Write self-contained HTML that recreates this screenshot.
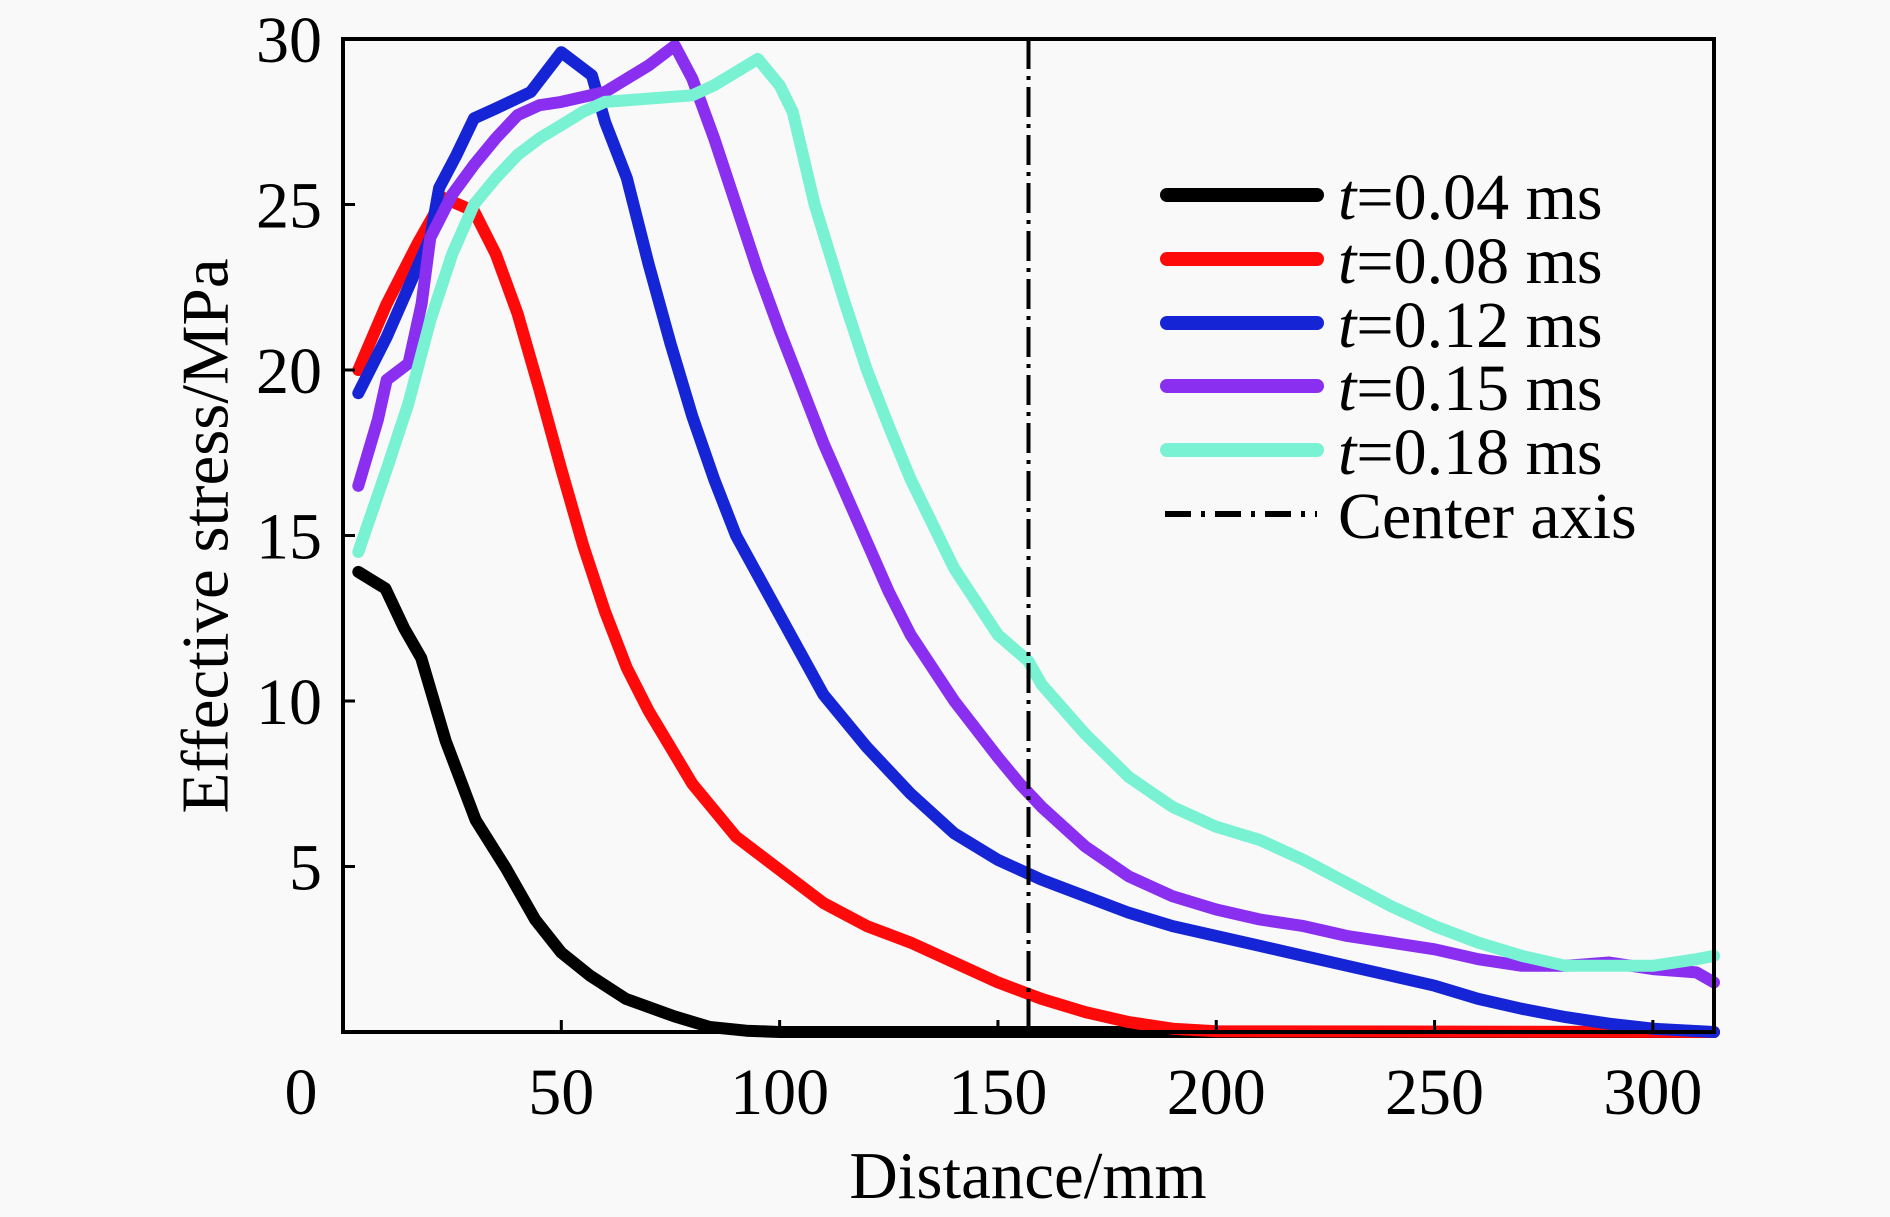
<!DOCTYPE html>
<html><head><meta charset="utf-8"><style>
html,body{margin:0;padding:0;background:#f9f9f9}
svg{display:block}
text{font-family:"Liberation Serif",serif;fill:#000}
</style></head><body>
<svg id="chart" width="1890" height="1217" viewBox="0 0 1890 1217" xmlns="http://www.w3.org/2000/svg">
<rect width="1890" height="1217" fill="#f9f9f9"/>
<g id="marks"></g>
<rect x="343" y="39" width="1371" height="993" fill="none" stroke="#000" stroke-width="4"/>
<g id="ticks"></g>
<text x="212" y="536" font-size="67" text-anchor="middle" transform="rotate(-90 212 536)" dominant-baseline="middle">Effective stress/MPa</text>
<text x="1028" y="1198" font-size="67" text-anchor="middle">Distance/mm</text>
<g id="legend"></g>
</svg>
<script>
const xTicks=[0,50,100,150,200,250,300];
const yTicks=[5,10,15,20,25,30];
const seriesNames=["t=0.04 ms","t=0.08 ms","t=0.12 ms","t=0.15 ms","t=0.18 ms"];
const seriesColors=["#000000","#ff0a0a","#1525d6","#8a2ef0","#78f2d2"];
const centerAxisX=157;
const s004=[[3.5,13.9],[9.7,13.4],[14,12.2],[17.9,11.3],[23.5,8.8],[30.4,6.4],[37.3,4.95],[44,3.4],[50,2.4],[56.6,1.7],[64.8,1.0],[75.9,0.47],[84,0.15],[92.4,0.04],[100,0],[314,0]];
const s008=[[3.5,20],[10,22],[17,23.8],[23,25.2],[30,24.8],[35,23.5],[40,21.7],[45,19.4],[50,17],[55,14.7],[60,12.7],[65,11],[70,9.7],[75,8.6],[80,7.5],[90,5.9],[100,4.9],[110,3.9],[120,3.2],[130,2.7],[140,2.1],[150,1.5],[160,1.0],[170,0.6],[180,0.3],[190,0.1],[200,0.02],[314,0]];
const s012=[[3.5,19.3],[10,21],[15,22.5],[20,24],[22,25.5],[26,26.5],[30,27.6],[35,27.9],[43,28.4],[50,29.6],[57,28.9],[60,27.5],[65,25.8],[70,23.2],[75,20.8],[80,18.6],[85,16.7],[90,15],[95,13.8],[100,12.6],[105,11.4],[110,10.2],[120,8.6],[130,7.2],[140,6.0],[150,5.2],[160,4.6],[170,4.1],[180,3.6],[190,3.2],[200,2.9],[210,2.6],[220,2.3],[230,2.0],[240,1.7],[250,1.4],[260,1.0],[270,0.7],[280,0.45],[290,0.25],[300,0.1],[314,0]];
const s015=[[3.5,16.5],[8,18.5],[10,19.7],[15,20.2],[18,22],[20,24],[25,25.3],[30,26.2],[35,27],[40,27.7],[45,28],[50,28.1],[60,28.4],[70,29.2],[76,29.8],[80,28.8],[85,27],[90,25],[95,23],[100,21.2],[105,19.5],[110,17.8],[115,16.3],[120,14.8],[125,13.3],[130,12],[140,10],[150,8.3],[155,7.5],[160,6.8],[170,5.6],[180,4.7],[190,4.1],[200,3.7],[210,3.4],[220,3.2],[230,2.9],[240,2.7],[250,2.5],[260,2.2],[270,2.0],[280,2.0],[290,2.1],[300,1.9],[310,1.8],[314,1.5]];
const s018=[[3.5,14.5],[10,17],[15,19],[20,21.5],[25,23.5],[30,25],[35,25.8],[40,26.5],[45,27],[50,27.4],[55,27.8],[60,28.1],[70,28.2],[80,28.3],[85,28.6],[90,29],[95,29.4],[100,28.6],[103,27.8],[108,25],[115,22],[120,20],[125,18.3],[130,16.7],[140,14],[150,12],[157,11.2],[160,10.5],[170,9],[180,7.7],[190,6.8],[200,6.2],[210,5.8],[220,5.2],[230,4.5],[240,3.8],[250,3.2],[260,2.7],[270,2.3],[280,2.0],[290,2.0],[300,2.0],[310,2.2],[314,2.3]];
const allSeries=[s004,s008,s012,s015,s018];
const NS="http://www.w3.org/2000/svg";
const L=343,R=1714,T=39,B=1032,XMAX=314,YMAX=30;
function xs(v){return L+v/XMAX*(R-L);}
function ys(v){return B-v/YMAX*(B-T);}
function mk(t,a){const e=document.createElementNS(NS,t);for(const k in a)e.setAttribute(k,a[k]);return e;}
const marks=document.getElementById('marks');
allSeries.forEach((s,i)=>{
  const p=mk('polyline',{points:s.map(d=>xs(d[0]).toFixed(1)+','+ys(d[1]).toFixed(1)).join(' '),fill:'none',stroke:seriesColors[i],'stroke-width':12,'stroke-linejoin':'round','stroke-linecap':'round'});
  
  
  marks.appendChild(p);
});
const ca=mk('line',{x1:xs(centerAxisX),x2:xs(centerAxisX),y1:T,y2:B,stroke:'#000','stroke-width':4,'stroke-dasharray':'30 7 4 7'});


marks.appendChild(ca);
const tk=document.getElementById('ticks');
xTicks.forEach(v=>{
  const l=mk('line',{x1:xs(v),x2:xs(v),y1:B,y2:B-12,stroke:'#000','stroke-width':3});
  
  
  tk.appendChild(l);
  const t=mk('text',{x:v===0?301:xs(v),y:1114,'font-size':66,'text-anchor':'middle'});
  t.textContent=v;
  
  
  tk.appendChild(t);
});
yTicks.forEach(v=>{
  const l=mk('line',{x1:L,x2:L+12,y1:ys(v),y2:ys(v),stroke:'#000','stroke-width':3});
  
  
  tk.appendChild(l);
  const t=mk('text',{x:322,y:ys(v)+23,'font-size':66,'text-anchor':'end'});
  t.textContent=v;
  
  
  tk.appendChild(t);
});
const lg=document.getElementById('legend');
const rows=[195,259,323,386,450,514];
seriesNames.forEach((n,i)=>{
  const l=mk('line',{x1:1167,x2:1317,y1:rows[i],y2:rows[i],stroke:seriesColors[i],'stroke-width':14,'stroke-linecap':'round'});
  
  
  lg.appendChild(l);
  const t=mk('text',{x:1338,y:rows[i]+24,'font-size':66});
  t.innerHTML='<tspan font-style="italic">t</tspan>'+n.slice(1);
  
  
  lg.appendChild(t);
});
const cl=mk('line',{x1:1165,x2:1317,y1:rows[5],y2:rows[5],stroke:'#000','stroke-width':6,'stroke-dasharray':'26 10 4 10'});


lg.appendChild(cl);
const ct=mk('text',{x:1338,y:rows[5]+24,'font-size':66});
ct.textContent='Center axis';


lg.appendChild(ct);
</script>
</body></html>
